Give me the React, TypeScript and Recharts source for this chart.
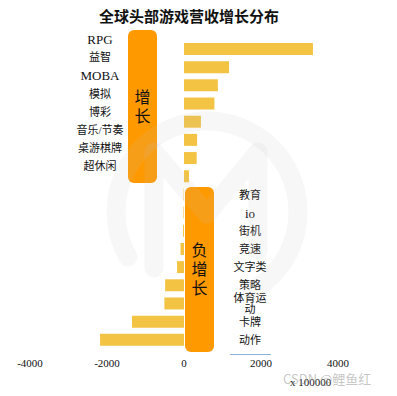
import React from "react";
import { BarChart, Bar, XAxis, YAxis } from "recharts";

const title = "全球头部游戏营收增长分布";
const categories = [
  "RPG", "益智", "MOBA", "模拟", "博彩", "音乐/节奏", "桌游棋牌", "超休闲",
  "教育", "io", "街机", "竞速", "文字类", "策略", "体育运动", "卡牌", "动作",
];
const growth = [
  3350, 1170, 880, 790, 440, 340, 330, 130,
  -10, -15, -25, -90, -180, -490, -510, -1350, -2180,
];
const xTicks = [-4000, -2000, 0, 2000, 4000];
const xUnit = "x 100000";
const upLabel = "增长";
const downLabel = "负增长";

const data = categories.map((name, i) => ({ name, value: growth[i] }));

const serif = "'Liberation Serif', 'Noto Sans CJK SC', serif";

function CategoryTick(props: any) {
  const { y, payload } = props;
  const name: string = payload.value;
  const idx = categories.indexOf(name);
  const up = growth[idx] >= 0;
  // long negative names wrap at 3 chars like the original
  const lines = !up && name.length > 3 ? [name.slice(0, 3), name.slice(3)] : [name];
  const latin = /^[A-Za-z]+$/.test(name);
  const x = up ? 100 : 250;
  const y0 = up ? y - 10 : y - ((lines.length - 1) * 11) / 2;
  return (
    <text
      x={x}
      y={y0}
      textAnchor="middle"
      dominantBaseline="central"
      fontSize={latin ? 13 : 11}
      fontFamily={serif}
      fill="#111"
    >
      {lines.map((l, i) => (
        <tspan key={i} x={x} dy={i === 0 ? 0 : 11}>
          {l}
        </tspan>
      ))}
    </text>
  );
}

function Tag({ text, left, top, height }: { text: string; left: number; top: number; height: number }) {
  return (
    <div
      style={{
        position: "absolute",
        left,
        top,
        width: 29,
        height,
        background: "#ff9900",
        borderRadius: 6,
        display: "flex",
        flexDirection: "column",
        alignItems: "center",
        justifyContent: "center",
        fontFamily: serif,
        fontSize: 16,
        lineHeight: "19px",
        color: "#111",
      }}
    >
      {text.split("").map((c, i) => (
        <span key={i}>{c}</span>
      ))}
    </div>
  );
}

export default function App() {
  return (
    <div style={{ position: "absolute", left: 0, top: 0, width: 397, height: 396, background: "#fff" }}>
      <div
        style={{
          position: "absolute",
          left: 0,
          top: 5,
          width: 378,
          textAlign: "center",
          fontFamily: serif,
          fontWeight: 700,
          fontSize: 15,
          color: "#111",
        }}
      >
        {title}
      </div>
      <div style={{ position: "absolute", left: 0, top: 0 }}>
        <BarChart
          width={397}
          height={396}
          data={data}
          layout="vertical"
          margin={{ top: 40, right: 59, left: 29, bottom: 17 }}
        >
          <XAxis
            type="number"
            domain={[-4000, 4000]}
            ticks={xTicks}
            axisLine={false}
            tickLine={false}
            height={30}
            tickMargin={4}
            tick={{ fontSize: 11, fill: "#111", fontFamily: serif }}
          />
          <YAxis
            type="category"
            dataKey="name"
            width={1}
            interval={0}
            axisLine={false}
            tickLine={false}
            tick={(p: any) => <CategoryTick {...p} />}
          />
          <Bar dataKey="value" fill="#f3c443" barSize={12} isAnimationActive={false} />
        </BarChart>
      </div>
      <Tag text={upLabel} left={128} top={30} height={153} />
      <Tag text={downLabel} left={185} top={187} height={165} />
      <div style={{ position: "absolute", left: 230, top: 354, width: 41, height: 1, background: "#8fb2dc" }} />
      <div
        style={{
          position: "absolute",
          left: 290,
          top: 376,
          fontFamily: serif,
          fontSize: 11,
          color: "#111",
        }}
      >
        {xUnit}
      </div>
      <svg width={397} height={396} style={{ position: "absolute", left: 0, top: 0, pointerEvents: "none" }}>
        <g stroke="rgba(190,190,190,0.13)" strokeWidth={19} fill="none" strokeLinecap="round" strokeLinejoin="round">
          <path d="M 128 257 A 91 91 0 1 1 252 291" />
          <polyline points="154,268 154,152 207,214 258,152 258,250" />
        </g>
        <text x={283} y={384} fontSize={13} fill="rgba(150,150,150,0.55)" fontFamily="'Noto Sans CJK SC', sans-serif">
          CSDN @鲤鱼红
        </text>
      </svg>
    </div>
  );
}
